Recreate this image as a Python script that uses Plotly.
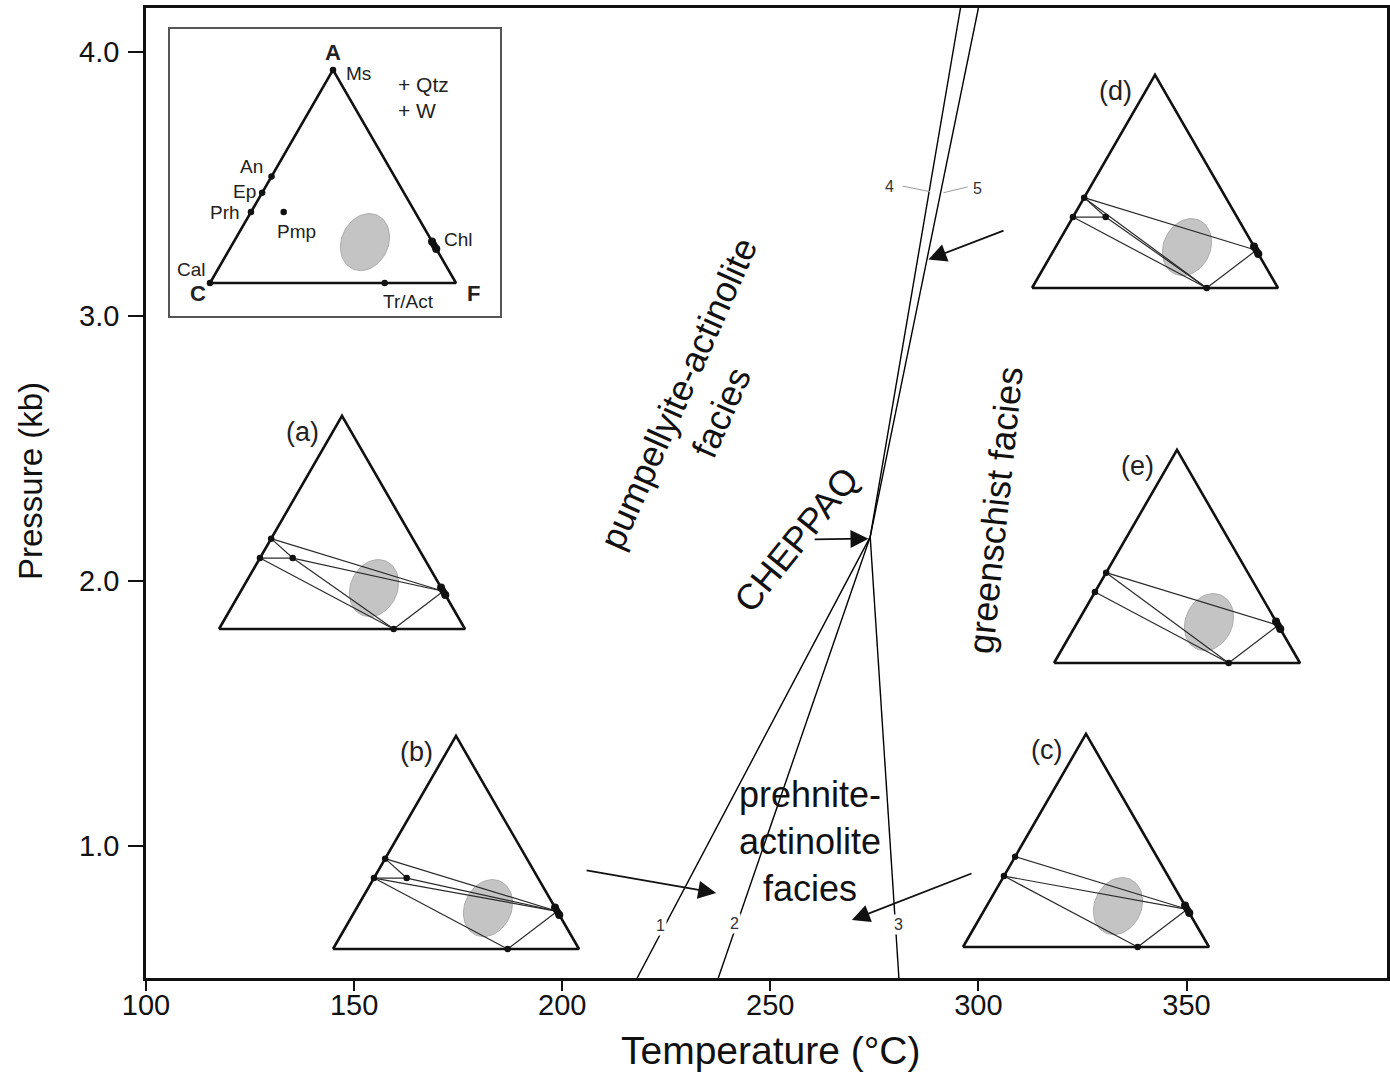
import math
import plotly.graph_objects as go

# ------------------------------------------------------------------ data
# main P-T diagram (T in deg C, P in kb)
invariant_T = 274.0
invariant_P = 2.167

reaction_ids = ["1", "2", "3", "4", "5"]
reaction_end_T = [218.0, 237.5, 280.9, 295.7, 300.0]
reaction_end_P = [0.50, 0.50, 0.50, 4.165, 4.165]
reaction_label_T = [223.6, 241.5, 280.9, 278.6, 299.8]
reaction_label_P = [0.700, 0.707, 0.704, 3.490, 3.483]
leader4_T = [281.8, 288.4]
leader4_P = [3.492, 3.471]
leader5_T = [297.4, 291.6]
leader5_P = [3.489, 3.467]

arrow_tail_T = [260.3, 306.4, 205.5, 298.7]
arrow_tail_P = [2.157, 3.326, 0.908, 0.897]
arrow_head_T = [273.6, 288.0, 237.0, 269.6]
arrow_head_P = [2.160, 3.215, 0.821, 0.719]

facies_text = ["pumpellyite-actinolite<br>facies", "CHEPPAQ",
               "greenschist facies", "prehnite-<br>actinolite<br>facies"]
facies_T = [233.1, 256.3, 304.0, 259.5]
facies_P = [2.672, 2.155, 2.268, 1.014]
facies_angle = [-66, -51, -84, 0]

temp_ticks = [100, 150, 200, 250, 300, 350]
pres_ticks = [1.0, 2.0, 3.0, 4.0]
x_title = "Temperature (°C)"
y_title = "Pressure (kb)"

# ACF compositions (A and F fractions; C = 1 - A - F)
mineral_names = ["Ms", "An", "Ep", "Prh", "Pmp", "Chl", "Tr/Act", "Cal"]
mineral_A = [1.000, 0.500, 0.424, 0.333, 0.333, 0.177, 0.000, 0.000]
mineral_F = [0.000, 0.000, 0.000, 0.000, 0.133, 0.823, 0.710, 0.000]
chl_A_span = [0.160, 0.195]
rock_A = 0.192
rock_F = 0.534
rock_semi_axes = [0.12, 0.095]
rock_tilt_deg = 25

diagram_labels = ["(a)", "(b)", "(c)", "(d)", "(e)"]
diagram_phases = [
    ["Ep", "Prh", "Pmp", "Chl", "Tr/Act"],
    ["Ep", "Prh", "Pmp", "Chl", "Tr/Act"],
    ["Ep", "Prh", "Chl", "Tr/Act"],
    ["Ep", "Prh", "Pmp", "Chl", "Tr/Act"],
    ["Ep", "Prh", "Chl", "Tr/Act"],
]
diagram_ties = [
    [("Ep", "Chl"), ("Pmp", "Chl"), ("Ep", "Pmp"), ("Prh", "Pmp"),
     ("Pmp", "Tr/Act"), ("Prh", "Tr/Act"), ("Chl", "Tr/Act")],
    [("Ep", "Chl"), ("Ep", "Pmp"), ("Prh", "Pmp"), ("Prh", "Chl"),
     ("Pmp", "Chl"), ("Prh", "Tr/Act"), ("Chl", "Tr/Act")],
    [("Ep", "Chl"), ("Prh", "Chl"), ("Prh", "Tr/Act"), ("Chl", "Tr/Act")],
    [("Ep", "Chl"), ("Ep", "Pmp"), ("Prh", "Pmp"), ("Ep", "Tr/Act"),
     ("Pmp", "Tr/Act"), ("Prh", "Tr/Act"), ("Chl", "Tr/Act")],
    [("Ep", "Chl"), ("Ep", "Tr/Act"), ("Prh", "Tr/Act"), ("Chl", "Tr/Act")],
]

# ------------------------------------------------------------------ layout geometry (pixels)
W, H = 1390, 1074
PLOT_L, PLOT_R, PLOT_T, PLOT_B = 146, 1387, 8, 978
X_RANGE = [100, 100 + (PLOT_R - PLOT_L) / 4.162]
Y_RANGE = [0.5, 4.165]
inset_box_px = (170, 29, 500, 316)
inset_origin_px = (210, 283)
inset_side = 246
diagram_origin_px = [(219, 629), (333, 949), (963, 947), (1032, 288), (1054, 663)]
diagram_side = 246
x_title_px = (771, 1050)
y_title_px = (30, 481)
PAD = 0.08
SQ3H = math.sqrt(3) / 2
FONT = "Liberation Sans, Arial, Helvetica, sans-serif"

inset_label_pos = [
    ("<b>A</b>", 0.50, 0.935, "center", 22),
    ("Ms", 0.545, 0.852, "left", 19),
    ("+ Qtz", 0.756, 0.805, "left", 21),
    ("+ W", 0.756, 0.703, "left", 21),
    ("An", 0.167, 0.473, "center", 19),
    ("Ep", 0.142, 0.371, "center", 19),
    ("Prh", 0.061, 0.286, "center", 19),
    ("Pmp", 0.352, 0.209, "center", 19),
    ("Chl", 1.010, 0.175, "center", 19),
    ("Cal", -0.074, 0.053, "center", 19),
    ("<b>C</b>", -0.050, -0.042, "center", 22),
    ("<b>F</b>", 1.070, -0.042, "center", 22),
    ("Tr/Act", 0.806, -0.076, "center", 19),
]


def px_paper(px, py):
    return (px - PLOT_L) / (PLOT_R - PLOT_L), (PLOT_B - py) / (PLOT_B - PLOT_T)


def dom_x(p0, p1):
    w = PLOT_R - PLOT_L
    return [max(0, (p0 - PLOT_L) / w), min(1, (p1 - PLOT_L) / w)]


def dom_y(ptop, pbot):
    h = PLOT_B - PLOT_T
    return [max(0, (PLOT_B - pbot) / h), min(1, (PLOT_B - ptop) / h)]


def tern(A, F):
    return F + A / 2.0, A * SQ3H


def mineral_xy(name):
    i = mineral_names.index(name)
    return tern(mineral_A[i], mineral_F[i])


fig = go.Figure()

# ------------------------------------------------------------------ main reactions
for k, rid in enumerate(reaction_ids):
    fig.add_trace(go.Scatter(
        x=[invariant_T, reaction_end_T[k]], y=[invariant_P, reaction_end_P[k]],
        mode="lines", line=dict(color="black", width=1.4),
        xaxis="x", yaxis="y", hoverinfo="skip", showlegend=False))

for lx, ly in [(leader4_T, leader4_P), (leader5_T, leader5_P)]:
    fig.add_trace(go.Scatter(x=lx, y=ly, mode="lines",
                             line=dict(color="#9a9a9a", width=1),
                             xaxis="x", yaxis="y", hoverinfo="skip", showlegend=False))

annotations = []
for k, rid in enumerate(reaction_ids):
    annotations.append(dict(
        x=reaction_label_T[k], y=reaction_label_P[k], xref="x", yref="y",
        text=rid, showarrow=False, font=dict(family=FONT, size=16, color="#333"),
        bgcolor="white" if k < 3 else None, borderpad=1))

for k in range(len(arrow_tail_T)):
    annotations.append(dict(
        x=arrow_head_T[k], y=arrow_head_P[k], ax=arrow_tail_T[k], ay=arrow_tail_P[k],
        xref="x", yref="y", axref="x", ayref="y", text="", showarrow=True,
        arrowhead=2, arrowsize=2.0, arrowwidth=1.8, arrowcolor="#111"))

for k, t in enumerate(facies_text):
    annotations.append(dict(
        x=facies_T[k], y=facies_P[k], xref="x", yref="y", text=t, showarrow=False,
        textangle=facies_angle[k], font=dict(family=FONT, size=36, color="#111"),
        align="center"))

# axis titles
tx_, ty_ = px_paper(*x_title_px)
annotations.append(dict(x=tx_, y=ty_, xref="paper", yref="paper", text=x_title,
                        xanchor="center", yanchor="middle",
                        showarrow=False, font=dict(family=FONT, size=39, color="#111")))
tx_, ty_ = px_paper(*y_title_px)
annotations.append(dict(x=tx_, y=ty_, xref="paper", yref="paper", text=y_title,
                        xanchor="center", yanchor="middle",
                        textangle=-90, showarrow=False,
                        font=dict(family=FONT, size=33, color="#111")))


# ------------------------------------------------------------------ ACF triangles
def add_triangle(axn, phases, ties):
    xa, ya = "x%d" % axn, "y%d" % axn
    # rock composition field
    cx, cy = tern(rock_A, rock_F)
    a, b = rock_semi_axes
    th = math.radians(rock_tilt_deg)
    ex, ey = [], []
    for j in range(73):
        t = 2 * math.pi * j / 72
        ex.append(cx + a * math.cos(t) * math.sin(th) + b * math.sin(t) * math.cos(th))
        ey.append(cy + a * math.cos(t) * math.cos(th) - b * math.sin(t) * math.sin(th))
    fig.add_trace(go.Scatter(x=ex, y=ey, mode="lines", fill="toself",
                             fillcolor="#c4c4c4", line=dict(color="#ababab", width=1),
                             xaxis=xa, yaxis=ya, hoverinfo="skip", showlegend=False))
    # outline
    corners = [tern(0, 0), tern(0, 1), tern(1, 0), tern(0, 0)]
    fig.add_trace(go.Scatter(x=[c[0] for c in corners], y=[c[1] for c in corners],
                             mode="lines", line=dict(color="#111", width=2.6),
                             xaxis=xa, yaxis=ya, hoverinfo="skip", showlegend=False))
    # tie lines
    tx, ty = [], []
    for p, q in ties:
        x1, y1 = mineral_xy(p)
        x2, y2 = mineral_xy(q)
        tx += [x1, x2, None]
        ty += [y1, y2, None]
    if tx:
        fig.add_trace(go.Scatter(x=tx, y=ty, mode="lines",
                                 line=dict(color="#2b2b2b", width=1.2),
                                 xaxis=xa, yaxis=ya, hoverinfo="skip", showlegend=False))
    # chlorite spread
    c1 = tern(chl_A_span[0], 1 - chl_A_span[0])
    c2 = tern(chl_A_span[1], 1 - chl_A_span[1])
    fig.add_trace(go.Scatter(x=[c1[0], c2[0]], y=[c1[1], c2[1]], mode="lines+markers",
                             line=dict(color="#111", width=7), marker=dict(size=8, color="#111"),
                             cliponaxis=False,
                             xaxis=xa, yaxis=ya, hoverinfo="skip", showlegend=False))
    pts = [mineral_xy(p) for p in phases if p != "Chl"]
    fig.add_trace(go.Scatter(x=[p[0] for p in pts], y=[p[1] for p in pts], mode="markers",
                             marker=dict(size=6.5, color="#111"), cliponaxis=False,
                             xaxis=xa, yaxis=ya, hoverinfo="skip", showlegend=False))


layout_axes = {}

# inset legend triangle (axis 2)
bx0, by0, bx1, by1 = inset_box_px
ox, oy = inset_origin_px
layout_axes["xaxis2"] = dict(domain=dom_x(bx0, bx1), anchor="y2",
                             range=[(bx0 - ox) / inset_side, (bx1 - ox) / inset_side],
                             showline=True, mirror=True, linecolor="#555", linewidth=1.5,
                             showgrid=False, zeroline=False, showticklabels=False, ticks="")
layout_axes["yaxis2"] = dict(domain=dom_y(by0, by1), anchor="x2",
                             range=[(oy - by1) / inset_side, (oy - by0) / inset_side],
                             showline=True, mirror=True, linecolor="#555", linewidth=1.5,
                             showgrid=False, zeroline=False, showticklabels=False, ticks="")
add_triangle(2, mineral_names, [])
for txt, lx, ly, anc, fs in inset_label_pos:
    annotations.append(dict(x=lx, y=ly, xref="x2", yref="y2", text=txt, showarrow=False,
                            xanchor=anc, font=dict(family=FONT, size=fs, color="#222")))

# five phase diagrams (axes 3..7)
for d, lab in enumerate(diagram_labels):
    n = d + 3
    lx, by = diagram_origin_px[d]
    s = diagram_side
    layout_axes["xaxis%d" % n] = dict(domain=dom_x(lx - PAD * s, lx + (1 + PAD) * s),
                                      anchor="y%d" % n, range=[-PAD, 1 + PAD], visible=False)
    layout_axes["yaxis%d" % n] = dict(domain=dom_y(by - (SQ3H + PAD) * s, by + PAD * s),
                                      anchor="x%d" % n, range=[-PAD, SQ3H + PAD], visible=False)
    add_triangle(n, diagram_phases[d], diagram_ties[d])
    annotations.append(dict(x=0.34, y=0.80, xref="x%d" % n, yref="y%d" % n, text=lab,
                            showarrow=False, font=dict(family=FONT, size=27, color="#222")))

fig.update_layout(
    width=W, height=H,
    margin=dict(l=PLOT_L, r=W - PLOT_R, t=PLOT_T, b=H - PLOT_B),
    paper_bgcolor="white", plot_bgcolor="white",
    showlegend=False,
    font=dict(family=FONT, color="#111"),
    xaxis=dict(domain=[0, 1], anchor="y", range=X_RANGE, tickvals=temp_ticks,
               ticks="outside", ticklen=10, tickwidth=2, tickcolor="#111",
               ticklabelstandoff=-11,
               showline=True, mirror=True, linecolor="#111", linewidth=2.5,
               showgrid=False, zeroline=False, automargin=False,
               tickfont=dict(family=FONT, size=29, color="#111")),
    yaxis=dict(domain=[0, 1], anchor="x", range=Y_RANGE, tickvals=pres_ticks,
               tickformat=".1f", automargin=False,
               ticks="outside", ticklen=15, tickwidth=2, tickcolor="#111",
               ticklabelstandoff=3,
               showline=True, mirror=True, linecolor="#111", linewidth=2.5,
               showgrid=False, zeroline=False,
               tickfont=dict(family=FONT, size=29, color="#111")),
    annotations=annotations,
    **layout_axes,
)

fig.write_html("out.html", config={"displayModeBar": False},
               post_script="document.body.style.margin='0';")
